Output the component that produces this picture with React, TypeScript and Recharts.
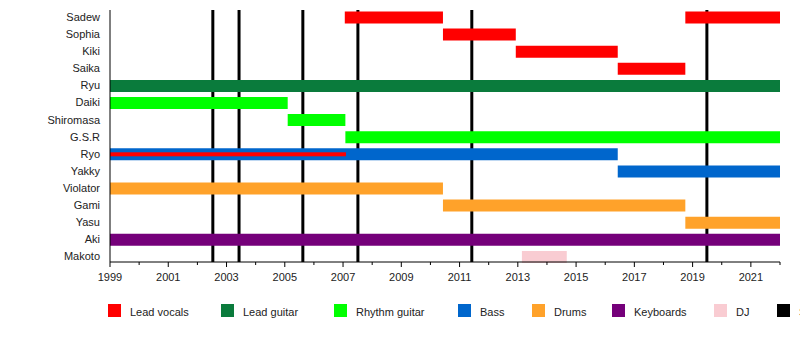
import { BarChart, Bar, XAxis, YAxis, ReferenceLine } from 'recharts'

type Seg = [string, number, number]

const members = [
  'Sadew', 'Sophia', 'Kiki', 'Saika', 'Ryu', 'Daiki', 'Shiromasa', 'G.S.R',
  'Ryo', 'Yakky', 'Violator', 'Gami', 'Yasu', 'Aki', 'Makoto',
]

const roles = ['Lead vocals', 'Lead guitar', 'Rhythm guitar', 'Bass', 'Drums', 'Keyboards', 'DJ']
const roleColors = ['#ff0000', '#0a7b3c', '#00ff00', '#0066cc', '#ffa22a', '#75007a', '#f9ccd2']

const albumLabel = 'Studio album'
const albumYears = [2002.53, 2003.43, 2005.62, 2007.51, 2011.42, 2019.49]

const years = Array.from({ length: 24 }, (_, i) => 1999 + i)

const leadVocals: Seg[] = [
  ['Sadew', 2007.06, 2010.43],
  ['Sophia', 2010.43, 2012.93],
  ['Kiki', 2012.93, 2016.43],
  ['Saika', 2016.43, 2018.75],
  ['Sadew', 2018.75, 2022],
]
const leadGuitar: Seg[] = [['Ryu', 1999, 2022]]
const rhythmGuitar: Seg[] = [
  ['Daiki', 1999, 2005.1],
  ['Shiromasa', 2005.1, 2007.08],
  ['G.S.R', 2007.08, 2022],
]
const bass: Seg[] = [
  ['Ryo', 1999, 2016.43],
  ['Yakky', 2016.43, 2022],
]
const drums: Seg[] = [
  ['Violator', 1999, 2010.43],
  ['Gami', 2010.43, 2018.75],
  ['Yasu', 2018.75, 2022],
]
const keyboards: Seg[] = [['Aki', 1999, 2022]]
const dj: Seg[] = [['Makoto', 2013.14, 2014.68]]

// secondary roles drawn as a thin line inside the main bar
const ryoVocals: Seg[] = [['Ryo', 1999, 2007.1]]

const segmentsByRole = [leadVocals, leadGuitar, rhythmGuitar, bass, drums, keyboards, dj]
const secondaryByRole: [number, Seg[]][] = [[0, ryoVocals]]

const rows: Record<string, any>[] = members.map((name) => ({ name }))
const barKeys: { key: string; color: string; thin: boolean }[] = []

segmentsByRole.forEach((segs, r) => {
  segs.forEach(([m, s, e]) => {
    const row = rows.find((d) => d.name === m)!
    let i = 0
    while (row[`r${r}_${i}`]) i++
    const key = `r${r}_${i}`
    row[key] = [s, e]
    if (!barKeys.find((b) => b.key === key)) barKeys.push({ key, color: roleColors[r], thin: false })
  })
})
secondaryByRole.forEach(([r, segs]) => {
  segs.forEach(([m, s, e]) => {
    const row = rows.find((d) => d.name === m)!
    const key = `r${r}_sec`
    row[key] = [s, e]
    if (!barKeys.find((b) => b.key === key)) barKeys.push({ key, color: roleColors[r], thin: true })
  })
})

const FONT = '"Liberation Sans", Arial, Helvetica, sans-serif'
const LEGEND_X = [108, 221, 334, 458, 532, 612, 714, 777]

const ThinBar = (props: any) => {
  const { x, y, width, height, fill } = props
  if (!(width > 0)) return null
  const h = 4
  return <rect x={x} y={y + (height - h) / 2} width={width} height={h} fill={fill} />
}

const YearTick = (props: any) => {
  const { x, y, payload } = props
  const major = (payload.value - 1999) % 2 === 0
  return (
    <g>
      <line x1={x} x2={x} y1={y} y2={y + (major ? 5 : 3)} stroke="#000" />
      {major && payload.value < 2022 && (
        <text x={x} y={y + 19} textAnchor="middle" fontSize={11} fill="#222" fontFamily={FONT}>
          {payload.value}
        </text>
      )}
    </g>
  )
}

export default function App() {
  const legendItems = [...roles.map((r, i) => ({ label: r, color: roleColors[i] })), { label: albumLabel, color: '#000' }]
  return (
    <div style={{ position: 'absolute', left: 0, top: 0, width: 800, height: 352, overflow: 'hidden', background: '#fff', fontFamily: FONT }}>
      <BarChart
        width={800}
        height={352}
        data={rows}
        layout="vertical"
        barGap={-12}
        margin={{ top: 10, right: 20, left: 0, bottom: 60 }}
      >
        <XAxis
          type="number"
          domain={[1999, 2022]}
          ticks={years}
          interval={0}
          allowDataOverflow
          tick={<YearTick />}
          tickLine={false}
          tickSize={0}
          tickMargin={0}
          height={30}
          axisLine={{ stroke: '#000' }}
        />
        <YAxis
          type="category"
          dataKey="name"
          width={110}
          interval={0}
          padding={{ top: -1.5, bottom: -3 }}
          tickLine={false}
          tickSize={0}
          tickMargin={10}
          axisLine={{ stroke: '#000' }}
          tick={{ fontSize: 11, fill: '#222', fontFamily: FONT }}
        />
        {albumYears.map((yr) => (
          <ReferenceLine key={yr} x={yr} stroke="#000" strokeWidth={3} zIndex={0} />
        ))}
        {barKeys.map((b) => (
          <Bar
            key={b.key}
            dataKey={b.key}
            fill={b.color}
            barSize={12}
            isAnimationActive={false}
            shape={b.thin ? <ThinBar /> : undefined}
          />
        ))}
      </BarChart>
      {legendItems.map((item, i) => (
        <div key={item.label} style={{ position: 'absolute', left: LEGEND_X[i], top: 304, whiteSpace: 'nowrap' }}>
          <div style={{ position: 'absolute', left: 0, top: 0, width: 13, height: 13, background: item.color }} />
          <span style={{ position: 'absolute', left: 22, top: 1, fontSize: 11, lineHeight: '14px', color: '#222' }}>
            {item.label}
          </span>
        </div>
      ))}
    </div>
  )
}
